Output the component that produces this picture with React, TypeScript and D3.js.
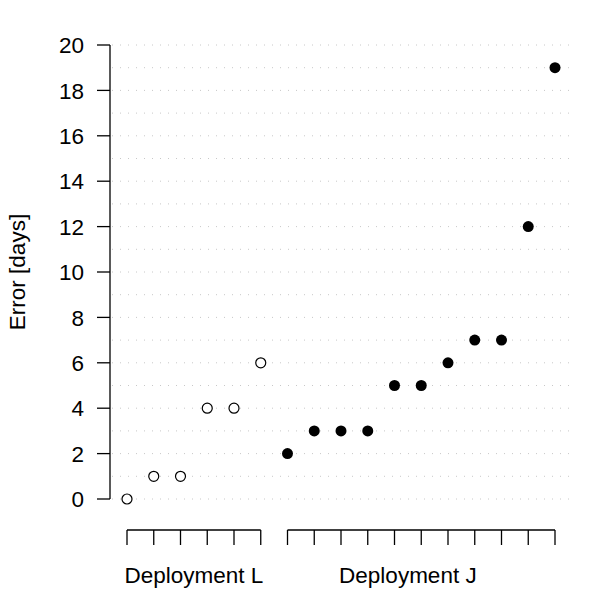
import { useEffect, useRef } from "react";
import * as d3 from "d3";

const groupL = [0, 1, 1, 4, 4, 6];
const groupJ = [2, 3, 3, 3, 5, 5, 6, 7, 7, 12, 19];
const groupLabels = ["Deployment L", "Deployment J"];
// label anchors, in point-index units
const labelAt = [2.5, 10.5];
const yTicks = [0, 2, 4, 6, 8, 10, 12, 14, 16, 18, 20];
const gridValues = d3.range(0, 21);

const FONT = "Liberation Sans, Arial, Helvetica, sans-serif";
const FONT_SIZE = 22.5;

export default function App() {
  const ref = useRef<SVGSVGElement>(null);

  useEffect(() => {
    if (!ref.current) return;
    const width = 600;
    const height = 600;
    const svg = d3.select(ref.current);
    svg.selectAll("*").remove();
    svg.attr("width", width).attr("height", height);

    const n = groupL.length + groupJ.length;
    const x = d3.scaleLinear().domain([0, n - 1]).range([127, 555]);
    const y = d3.scaleLinear().domain([0, 20]).range([499, 45]);

    // dotted horizontal grid at every unit
    svg
      .append("g")
      .selectAll("line")
      .data(gridValues)
      .join("line")
      .attr("x1", 112)
      .attr("x2", 572)
      .attr("y1", (d) => y(d))
      .attr("y2", (d) => y(d))
      .attr("stroke", "#c8c8c8")
      .attr("stroke-width", 1)
      .attr("stroke-dasharray", "1,7");

    // y axis
    const yAxis = svg.append("g").attr("stroke", "#000").attr("stroke-width", 1.3);
    yAxis
      .append("line")
      .attr("x1", 110)
      .attr("x2", 110)
      .attr("y1", y(0))
      .attr("y2", y(20));
    yAxis
      .selectAll("line.tick")
      .data(yTicks)
      .join("line")
      .attr("class", "tick")
      .attr("x1", 97)
      .attr("x2", 110)
      .attr("y1", (d) => y(d))
      .attr("y2", (d) => y(d));

    svg
      .append("g")
      .selectAll("text")
      .data(yTicks)
      .join("text")
      .attr("x", 84)
      .attr("y", (d) => y(d))
      .attr("dy", "0.36em")
      .attr("text-anchor", "end")
      .attr("font-family", FONT)
      .attr("font-size", FONT_SIZE)
      .text((d) => d);

    svg
      .append("text")
      .attr("transform", `translate(25,${(y(0) + y(20)) / 2}) rotate(-90)`)
      .attr("text-anchor", "middle")
      .attr("font-family", FONT)
      .attr("font-size", FONT_SIZE)
      .text("Error [days]");

    // x axis segments, one per deployment
    const groups = [
      { label: groupLabels[0], at: labelAt[0], start: 0, values: groupL },
      { label: groupLabels[1], at: labelAt[1], start: groupL.length, values: groupJ },
    ];
    const axisY = 530;
    groups.forEach((g) => {
      const idx = g.values.map((_, i) => g.start + i);
      const ax = svg.append("g").attr("stroke", "#000").attr("stroke-width", 1.3);
      ax.append("line")
        .attr("x1", x(idx[0]))
        .attr("x2", x(idx[idx.length - 1]))
        .attr("y1", axisY)
        .attr("y2", axisY);
      ax.selectAll("line.tick")
        .data(idx)
        .join("line")
        .attr("class", "tick")
        .attr("x1", (d) => x(d))
        .attr("x2", (d) => x(d))
        .attr("y1", axisY)
        .attr("y2", axisY + 15);
      svg
        .append("text")
        .attr("x", x(g.at))
        .attr("y", 583)
        .attr("text-anchor", "middle")
        .attr("font-family", FONT)
        .attr("font-size", FONT_SIZE)
        .text(g.label);
    });

    // points
    svg
      .append("g")
      .selectAll("circle")
      .data(groupL)
      .join("circle")
      .attr("cx", (_, i) => x(i))
      .attr("cy", (d) => y(d))
      .attr("r", 5)
      .attr("fill", "#fff")
      .attr("stroke", "#000")
      .attr("stroke-width", 1.2);

    svg
      .append("g")
      .selectAll("circle")
      .data(groupJ)
      .join("circle")
      .attr("cx", (_, i) => x(groupL.length + i))
      .attr("cy", (d) => y(d))
      .attr("r", 5.5)
      .attr("fill", "#000");
  }, []);

  return (
    <svg
      ref={ref}
      style={{ position: "absolute", left: 0, top: 0, display: "block", background: "#fff" }}
    />
  );
}
